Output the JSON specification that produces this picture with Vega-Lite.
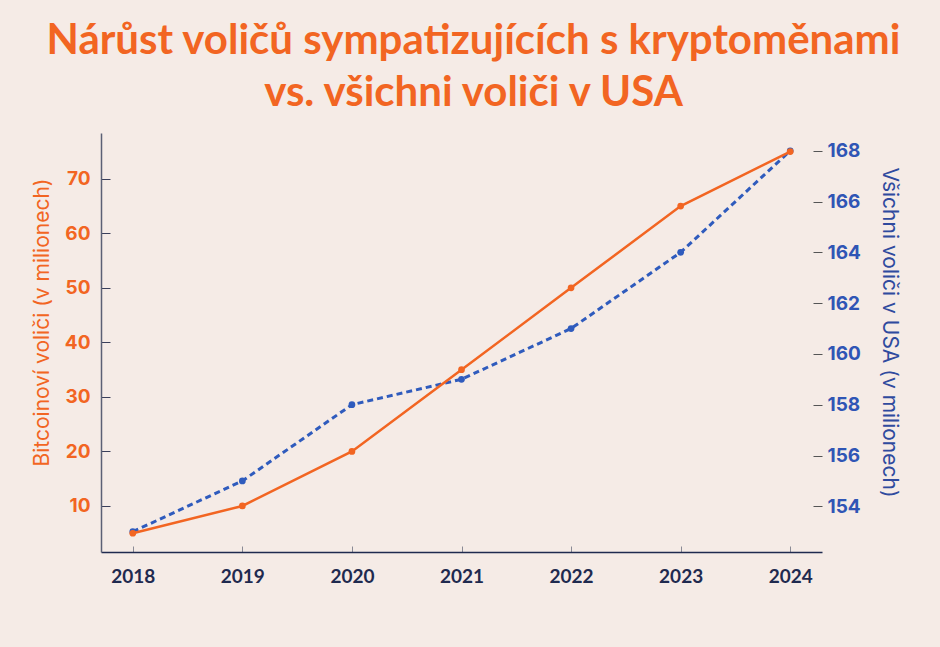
{
  "$schema": "https://vega.github.io/schema/vega-lite/v6.json",
  "width": 721,
  "height": 419,
  "autosize": {"type": "none"},
  "padding": {"left": 101, "top": 133, "right": 118, "bottom": 95},
  "background": "#f5ebe6",
  "config": {"view": {"stroke": null}},
  "title": {
    "text": ["Nárůst voličů sympatizujících s kryptoměnami", "vs. všichni voliči v USA"],
    "font": "Lato",
    "fontSize": 42,
    "fontWeight": "bold",
    "color": "#f26522",
    "anchor": "middle",
    "offset": 18,
    "lineHeight": 52,
    "dx": 12
  },
  "data": {
    "values": [
      {"year": "2018", "btc": 5, "all": 153},
      {"year": "2019", "btc": 10, "all": 155},
      {"year": "2020", "btc": 20, "all": 158},
      {"year": "2021", "btc": 35, "all": 159},
      {"year": "2022", "btc": 50, "all": 161},
      {"year": "2023", "btc": 65, "all": 164},
      {"year": "2024", "btc": 75, "all": 168}
    ]
  },
  "encoding": {
    "x": {
      "field": "year",
      "type": "ordinal",
      "scale": {"type": "point", "padding": 0.29},
      "axis": {
        "title": null,
        "labelAngle": 0,
        "tickSize": -6,
        "tickColor": "#8a8a95",
        "domainColor": "#1f2a4f",
        "domainWidth": 1.5,
        "labelColor": "#1f2a4f",
        "labelFont": "Lato",
        "labelFontSize": 19,
        "labelFontWeight": "bold",
        "labelPadding": 21,
        "grid": false
      }
    }
  },
  "layer": [
    {
      "encoding": {
        "y": {
          "field": "all",
          "type": "quantitative",
          "scale": {"domain": [152.2, 168.7], "nice": false, "zero": false},
          "axis": {
            "orient": "right",
            "offset": -9,
            "tickSize": 9,
            "tickColor": "#555555",
            "domain": false,
            "grid": false,
            "values": [154, 156, 158, 160, 162, 164, 166, 168],
            "labelColor": "#2f55b5",
            "labelFont": "Inter",
            "labelFontSize": 19,
            "labelFontWeight": "bold",
            "labelPadding": 5,
            "title": "Všichni voliči v USA (v milionech)",
            "titleColor": "#2f4a9e",
            "titleFont": "Inter",
            "titleFontSize": 21,
            "titleFontWeight": "normal",
            "titlePadding": 18,
            "titleY": 199
          }
        }
      },
      "layer": [
        {"mark": {"type": "line", "color": "#2f5bbd", "strokeDash": [6, 4], "strokeWidth": 3}},
        {"mark": {"type": "point", "filled": true, "color": "#2f5bbd", "size": 45, "opacity": 1}}
      ]
    },
    {
      "encoding": {
        "y": {
          "field": "btc",
          "type": "quantitative",
          "scale": {"domain": [1.56, 78.4], "nice": false, "zero": false},
          "axis": {
            "orient": "left",
            "tickSize": -9,
            "tickColor": "#3a3f5a",
            "domainColor": "#5b6075",
            "domainWidth": 1.5,
            "grid": false,
            "values": [10, 20, 30, 40, 50, 60, 70],
            "labelColor": "#f26522",
            "labelFont": "Inter",
            "labelFontSize": 19,
            "labelFontWeight": "bold",
            "labelPadding": 20,
            "title": "Bitcoinoví voliči (v milionech)",
            "titleColor": "#f26522",
            "titleFont": "Inter",
            "titleFontSize": 21,
            "titleFontWeight": "normal",
            "titlePadding": 12,
            "titleY": 189
          }
        }
      },
      "layer": [
        {"mark": {"type": "line", "color": "#f26522", "strokeWidth": 2.5}},
        {"mark": {"type": "point", "filled": true, "color": "#f26522", "size": 45, "opacity": 1}}
      ]
    }
  ],
  "resolve": {"scale": {"y": "independent"}}
}
